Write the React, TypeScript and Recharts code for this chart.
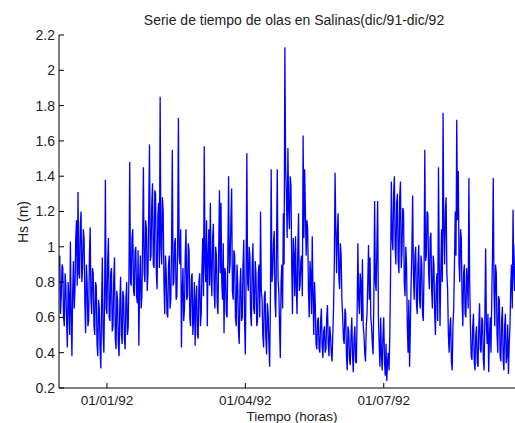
import { LineChart, Line, XAxis, YAxis } from 'recharts'

// Hs (m), two readings per day starting 01/12/91
const hs = [
  0.95, 0.62, 0.72, 0.90, 0.88, 0.60, 0.55, 0.85, 0.78, 0.58, 0.43, 0.80, 0.70, 0.50, 1.03, 0.62, 0.38, 0.75, 0.92, 0.65,
  0.75, 1.05, 1.15, 0.78, 1.31, 0.85, 0.82, 1.12, 1.20, 0.80, 0.88, 1.10, 1.05, 0.68, 0.51, 0.90, 0.80, 0.55, 0.58, 0.95,
  1.11, 0.70, 0.62, 0.88, 0.85, 0.55, 0.50, 0.80, 0.78, 0.45, 0.38, 0.70, 0.65, 0.42, 0.31, 0.68, 0.94, 0.50, 0.40, 0.72,
  1.38, 0.65, 0.62, 0.92, 1.05, 0.60, 0.58, 0.85, 0.88, 0.52, 0.55, 0.82, 0.94, 0.48, 0.42, 0.75, 0.70, 0.45, 0.38, 0.68,
  0.83, 0.50, 0.45, 0.75, 0.72, 0.48, 0.42, 0.70, 0.80, 0.50, 0.55, 0.85, 1.48, 0.80, 0.78, 1.05, 1.10, 0.75, 0.72, 0.98,
  1.00, 0.72, 0.68, 0.98, 0.44, 0.80, 0.95, 0.65, 0.72, 1.05, 1.45, 0.85, 0.80, 1.15, 1.10, 0.75, 0.85, 1.20, 1.58, 0.92,
  0.95, 1.25, 1.36, 0.90, 0.88, 1.32, 1.30, 0.85, 0.76, 1.18, 1.25, 0.88, 1.85, 1.00, 0.90, 1.28, 1.20, 0.80, 0.62, 0.95,
  0.85, 0.62, 0.60, 0.90, 0.95, 0.65, 0.70, 1.00, 1.55, 0.78, 0.80, 1.02, 1.05, 0.70, 0.72, 1.00, 1.73, 0.95, 0.90, 1.10,
  0.43, 0.75, 0.88, 0.58, 0.65, 0.95, 1.10, 0.70, 0.72, 1.02, 0.98, 0.60, 0.55, 0.82, 0.85, 0.50, 0.60, 0.80, 0.44, 0.70,
  0.78, 0.50, 0.48, 0.80, 0.85, 0.55, 0.62, 0.88, 1.05, 0.72, 1.57, 0.90, 0.80, 1.15, 0.55, 0.95, 1.10, 0.78, 1.25, 0.85,
  0.72, 1.05, 1.13, 0.75, 0.65, 1.00, 0.95, 0.68, 0.62, 0.98, 1.32, 0.85, 1.25, 0.80, 0.70, 1.02, 0.51, 0.88, 0.85, 0.62,
  0.60, 0.95, 1.40, 0.85, 0.90, 1.15, 1.33, 0.75, 0.70, 0.98, 0.95, 0.60, 0.55, 0.90, 0.80, 0.52, 0.45, 0.78, 0.88, 0.58,
  0.60, 0.90, 1.04, 0.58, 0.39, 0.85, 1.53, 0.80, 0.75, 1.00, 0.95, 0.62, 0.55, 0.90, 1.02, 0.65, 0.62, 0.92, 0.85, 0.55,
  0.58, 0.85, 0.90, 0.60, 1.20, 0.75, 0.70, 0.50, 0.43, 0.72, 0.75, 0.48, 0.39, 0.68, 0.62, 0.45, 0.32, 0.70, 1.44, 0.80,
  0.85, 1.02, 1.09, 0.70, 0.60, 1.00, 1.44, 0.82, 0.75, 0.55, 0.37, 0.80, 0.90, 0.65, 1.19, 0.90, 2.13, 1.45, 1.30, 1.05,
  1.56, 1.20, 1.10, 1.40, 1.35, 0.90, 0.62, 1.05, 0.95, 0.72, 1.06, 0.78, 0.62, 0.98, 1.19, 0.75, 0.78, 0.92, 0.95, 0.72,
  1.63, 1.05, 1.44, 1.20, 0.95, 1.15, 1.10, 0.75, 0.60, 0.92, 0.85, 0.62, 1.06, 0.72, 0.50, 0.80, 0.67, 0.45, 0.42, 0.58,
  0.60, 0.42, 0.40, 0.58, 0.65, 0.44, 0.37, 0.52, 0.55, 0.40, 0.42, 0.60, 0.67, 0.45, 0.38, 0.55, 0.50, 0.40, 0.35, 0.50,
  0.65, 0.90, 1.42, 1.10, 0.85, 1.08, 1.19, 0.82, 0.76, 1.02, 0.95, 0.70, 0.60, 0.48, 0.45, 0.65, 0.62, 0.38, 0.30, 0.55,
  0.52, 0.36, 0.33, 0.50, 0.60, 0.38, 0.29, 0.48, 0.55, 0.35, 0.34, 0.62, 1.02, 0.70, 0.62, 0.85, 0.80, 0.58, 0.93, 0.55,
  0.50, 0.40, 0.35, 0.55, 0.62, 0.80, 1.01, 0.70, 0.94, 0.60, 0.55, 0.45, 0.39, 0.70, 1.26, 0.80, 0.75, 1.00, 1.26, 0.60,
  0.45, 0.32, 0.60, 0.38, 0.30, 0.50, 0.60, 0.35, 0.27, 0.45, 0.24, 0.35, 0.40, 0.30, 0.50, 0.85, 1.37, 1.05, 0.98, 1.30,
  1.40, 1.00, 0.90, 1.25, 1.30, 0.92, 0.85, 1.28, 1.37, 0.88, 0.97, 1.22, 1.20, 0.80, 0.72, 1.00, 0.90, 0.55, 0.40, 0.70,
  0.32, 0.55, 0.80, 0.98, 1.29, 0.85, 0.70, 0.95, 1.00, 0.68, 0.62, 0.90, 1.01, 0.70, 0.65, 0.95, 0.90, 0.62, 0.58, 0.88,
  1.55, 0.92, 0.95, 1.20, 1.19, 0.85, 0.76, 1.05, 1.08, 0.75, 0.65, 0.95, 0.90, 0.62, 0.50, 0.78, 0.85, 0.58, 1.45, 0.90,
  0.55, 0.85, 1.10, 0.80, 1.76, 1.10, 0.90, 1.20, 1.28, 0.85, 0.76, 0.50, 0.40, 0.55, 0.60, 0.35, 0.30, 0.55, 0.65, 0.90,
  1.20, 0.95, 1.72, 1.15, 1.43, 0.90, 0.80, 1.10, 1.05, 0.70, 0.55, 0.85, 0.90, 0.62, 0.60, 0.88, 0.80, 0.65, 1.39, 0.80,
  0.55, 0.38, 0.36, 0.55, 0.62, 0.35, 0.30, 0.50, 0.55, 0.34, 0.32, 0.55, 0.68, 0.42, 0.40, 0.60, 0.58, 0.36, 0.30, 0.62,
  0.99, 0.55, 0.45, 0.62, 0.29, 0.50, 0.60, 0.40, 0.70, 0.95, 1.39, 0.75, 0.55, 0.90, 0.85, 0.50, 0.40, 0.72, 0.70, 0.38,
  0.35, 0.58, 0.66, 0.36, 0.30, 0.55, 0.62, 0.34, 0.38, 0.56, 0.28, 0.45, 0.55, 0.78, 0.90, 0.65, 1.21, 0.85, 0.75, 1.00,
  1.05, 0.78, 0.80,
]

// day offsets (from 01/12/91) of the date ticks
const dateTicks = [31, 122, 213]
const dateLabels = ['01/01/92', '01/04/92', '01/07/92']
const hsTicks = [0.2, 0.4, 0.6, 0.8, 1, 1.2, 1.4, 1.6, 1.8, 2, 2.2]

const data = hs.map((v, i) => ({ day: i / 2, hs: v }))

const font = "'Liberation Sans', Arial, sans-serif"
const ink = '#222'

export default function App() {
  const fmtDate = (d: number) => dateLabels[dateTicks.indexOf(d)] ?? ''
  return (
    <div style={{ position: 'absolute', left: 0, top: 0, width: 515, height: 423, overflow: 'hidden', background: '#fff' }}>
      <LineChart
        width={540}
        height={423}
        data={data}
        margin={{ top: 35, right: 11, bottom: 0, left: 0 }}
        style={{ fontFamily: font }}
      >
        <XAxis
          dataKey="day"
          type="number"
          domain={[-0.5, 308.5]}
          allowDataOverflow
          ticks={dateTicks}
          tickFormatter={fmtDate}
          height={35}
          tickSize={-5}
          tickMargin={12}
          stroke="#000"
          tick={{ fill: ink, fontSize: 13.5 }}
        />
        <XAxis
          xAxisId="top"
          orientation="top"
          dataKey="day"
          type="number"
          domain={[-0.5, 308.5]}
          allowDataOverflow
          ticks={dateTicks}
          tickFormatter={() => ''}
          height={0}
          tickSize={-5}
          stroke="#000"
        />
        <YAxis
          type="number"
          domain={[0.2, 2.2]}
          allowDataOverflow
          ticks={hsTicks}
          tickFormatter={(v: number) => String(Number(v.toFixed(1)))}
          width={59}
          tickSize={-5}
          tickMargin={9}
          stroke="#000"
          tick={{ fill: ink, fontSize: 14 }}
        />
        <Line
          type="linear"
          dataKey="hs"
          stroke="#0000ff"
          strokeWidth={1.3}
          dot={false}
          isAnimationActive={false}
        />
      </LineChart>
      <svg width={515} height={423} style={{ position: 'absolute', left: 0, top: 0, pointerEvents: 'none', fontFamily: font }}>
        <text x={294} y={25} textAnchor="middle" fontSize={14} fill={ink}>
          Serie de tiempo de olas en Salinas(dic/91-dic/92
        </text>
        <text x={292} y={421} textAnchor="middle" fontSize={13.5} fill={ink}>
          Tiempo (horas)
        </text>
        <text x={28} y={222} textAnchor="middle" fontSize={14} fill={ink} transform="rotate(-90, 28, 222)">
          Hs (m)
        </text>
      </svg>
    </div>
  )
}
